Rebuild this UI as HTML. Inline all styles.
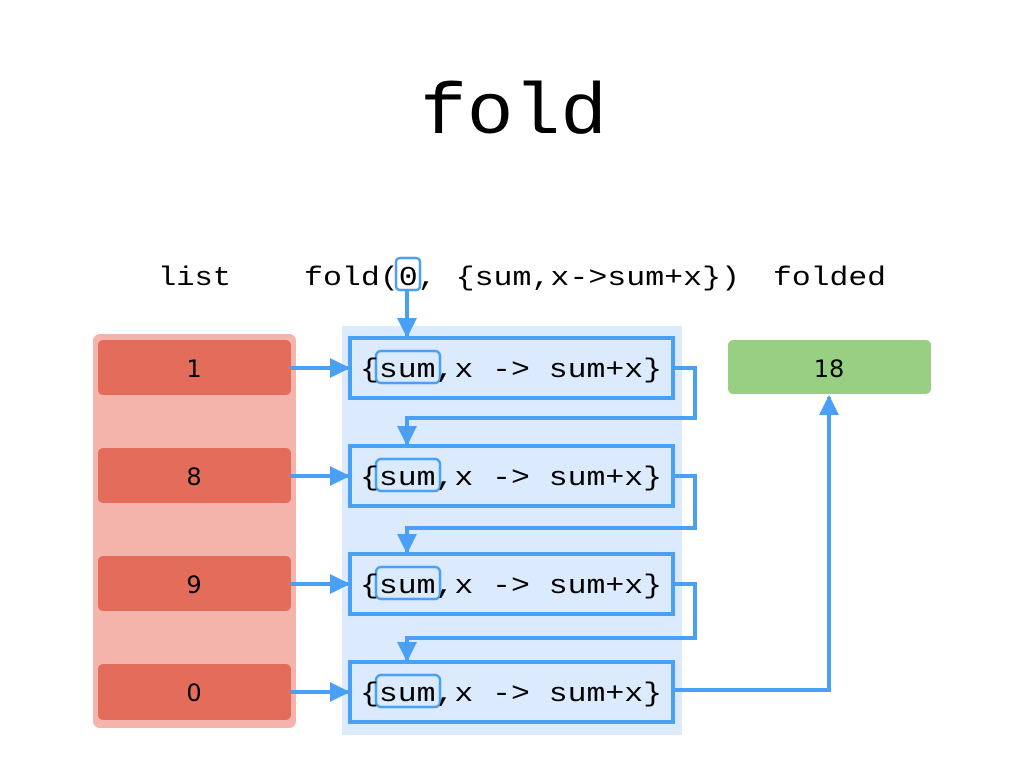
<!DOCTYPE html>
<html><head><meta charset="utf-8"><style>html,body{margin:0;padding:0;background:#fff;}svg{display:block}</style></head>
<body>
<svg width="1024" height="768" viewBox="0 0 1024 768" xmlns="http://www.w3.org/2000/svg">
<defs>
<marker id="ah" viewBox="0 0 10 10" refX="9" refY="5" markerWidth="5" markerHeight="5.5" orient="auto" markerUnits="strokeWidth">
<path d="M0,0 L10,5 L0,10 z" fill="#4aa0f5"/></marker>
</defs>
<g font-family="'Liberation Mono', monospace" fill="#000">
<text x="420" y="133" font-size="72" textLength="187" lengthAdjust="spacingAndGlyphs">fold</text>
<text x="158" y="285" font-size="27" textLength="73" lengthAdjust="spacingAndGlyphs">list</text>
<text x="304" y="285" font-size="27" textLength="436" lengthAdjust="spacingAndGlyphs">fold(0, {sum,x-&gt;sum+x})</text>
<text x="773" y="285" font-size="27" textLength="113" lengthAdjust="spacingAndGlyphs">folded</text>
</g>
<rect x="396" y="258" width="24" height="32" rx="4" fill="none" stroke="#4aa0f5" stroke-width="2.5"/>
<rect x="93" y="334" width="203" height="394" rx="7" fill="#f4b3ab"/>
<rect x="342" y="326" width="340" height="409" fill="#dbeafc"/>
<g fill="#e46c5b">
<rect x="98" y="340" width="193" height="55" rx="5"/>
<rect x="98" y="448" width="193" height="55" rx="5"/>
<rect x="98" y="556" width="193" height="55" rx="5"/>
<rect x="98" y="664" width="193" height="56" rx="5"/>
</g>
<g font-family="'DejaVu Sans', sans-serif" font-size="24" text-anchor="middle" fill="#000">
<text x="194" y="377">1</text><text x="194" y="485">8</text><text x="194" y="593">9</text><text x="194" y="701">0</text>
</g>
<rect x="728" y="340" width="203" height="54" rx="5" fill="#98cf83"/>
<text x="829" y="377" font-family="'DejaVu Sans', sans-serif" font-size="24" text-anchor="middle">18</text>
<g stroke="#4aa0f5" stroke-width="4" fill="none">
<rect x="350" y="338" width="323" height="60"/>
<rect x="350" y="446" width="323" height="60"/>
<rect x="350" y="554" width="323" height="60"/>
<rect x="350" y="662" width="323" height="60"/>
</g>
<g stroke="#4aa0f5" stroke-width="2.5" fill="none">
<rect x="376" y="351" width="64" height="32" rx="5"/>
<rect x="376" y="459" width="64" height="32" rx="5"/>
<rect x="376" y="567" width="64" height="32" rx="5"/>
<rect x="376" y="675" width="64" height="32" rx="5"/>
</g>
<g font-family="'Liberation Mono', monospace" font-size="27" fill="#000">
<text x="360" y="377" textLength="302" lengthAdjust="spacingAndGlyphs">{sum,x -&gt; sum+x}</text>
<text x="360" y="485" textLength="302" lengthAdjust="spacingAndGlyphs">{sum,x -&gt; sum+x}</text>
<text x="360" y="593" textLength="302" lengthAdjust="spacingAndGlyphs">{sum,x -&gt; sum+x}</text>
<text x="360" y="701" textLength="302" lengthAdjust="spacingAndGlyphs">{sum,x -&gt; sum+x}</text>
</g>
<g stroke="#4aa0f5" stroke-width="4" fill="none" marker-end="url(#ah)">
<path d="M407,290 V336"/>
<path d="M291,368 H348"/>
<path d="M291,476 H348"/>
<path d="M291,584 H348"/>
<path d="M291,692 H348"/>
<path d="M675,368 H695 V418 H407 V444"/>
<path d="M675,476 H695 V528 H407 V552"/>
<path d="M675,584 H695 V638 H407 V660"/>
<path d="M675,690 H829 V397"/>
</g>
</svg>
</body></html>
